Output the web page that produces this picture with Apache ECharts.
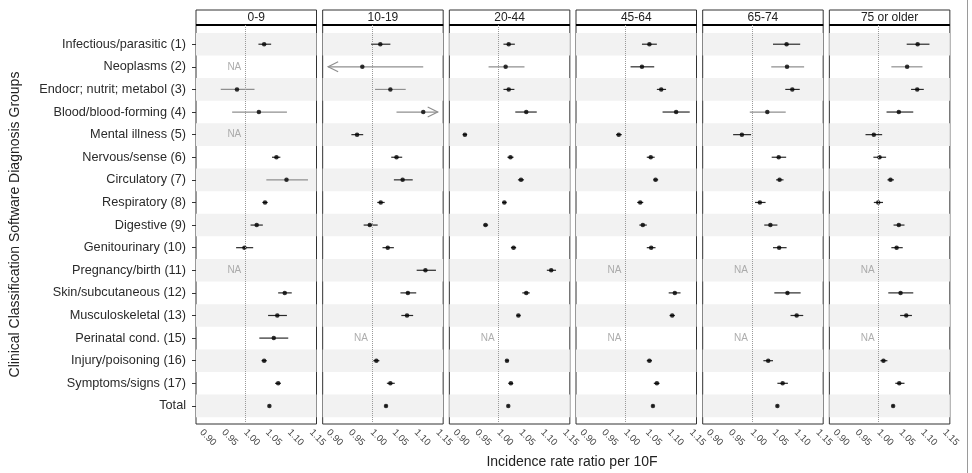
<!DOCTYPE html>
<html>
<head>
<meta charset="utf-8">
<script src="https://cdn.jsdelivr.net/npm/echarts@6/dist/echarts.min.js"></script>
<style>
  html, body { margin: 0; padding: 0; background: #fff; }
  #chart { width: 972px; height: 473px; }
</style>
</head>
<body>
<div id="chart"></div>
<script>
// forest plot: incidence rate ratio per 10F by age group
var myChart = echarts.init(document.getElementById('chart'));

var ageGroups = ['0-9', '10-19', '20-44', '45-64', '65-74', '75 or older'];
var diagnosisGroups = [
    'Infectious/parasitic (1)', 'Neoplasms (2)', 'Endocr; nutrit; metabol (3)',
    'Blood/blood-forming (4)', 'Mental illness (5)', 'Nervous/sense (6)',
    'Circulatory (7)', 'Respiratory (8)', 'Digestive (9)', 'Genitourinary (10)',
    'Pregnancy/birth (11)', 'Skin/subcutaneous (12)', 'Musculoskeletal (13)',
    'Perinatal cond. (15)', 'Injury/poisoning (16)', 'Symptoms/signs (17)', 'Total'
];

// [estimate, lower, upper]; null = NA
var rr_0_9 = [
    [1.043, 1.030, 1.059], null, [0.981, 0.944, 1.021], [1.031, 0.970, 1.095], null,
    [1.071, 1.061, 1.080], [1.094, 1.048, 1.143], [1.045, 1.039, 1.051], [1.026, 1.012, 1.040],
    [0.998, 0.979, 1.018], null, [1.090, 1.075, 1.106], [1.073, 1.052, 1.095],
    [1.065, 1.032, 1.098], [1.043, 1.037, 1.049], [1.075, 1.068, 1.081], [1.055, 1.053, 1.057]
];
var rr_10_19 = [
    [1.019, 0.998, 1.042], [0.978, 0.860, 1.117], [1.042, 1.007, 1.077], [1.117, 1.056, 1.180],
    [0.966, 0.953, 0.980], [1.056, 1.044, 1.069], [1.070, 1.050, 1.093], [1.020, 1.012, 1.029],
    [0.995, 0.981, 1.013], [1.036, 1.024, 1.050], [1.122, 1.102, 1.146], [1.082, 1.065, 1.101],
    [1.080, 1.067, 1.094], null, [1.010, 1.003, 1.017], [1.042, 1.034, 1.052], [1.032, 1.030, 1.034]
];
var rr_20_44 = [
    [1.023, 1.011, 1.037], [1.016, 0.977, 1.059], [1.023, 1.011, 1.036], [1.063, 1.038, 1.087],
    [0.923, 0.918, 0.928], [1.027, 1.020, 1.034], [1.051, 1.044, 1.058], [1.013, 1.008, 1.018],
    [0.970, 0.965, 0.976], [1.034, 1.028, 1.040], [1.120, 1.110, 1.131], [1.063, 1.054, 1.071],
    [1.045, 1.041, 1.050], null, [1.019, 1.016, 1.023], [1.028, 1.022, 1.033], [1.022, 1.020, 1.024]
];
var rr_45_64 = [
    [1.055, 1.038, 1.072], [1.038, 1.012, 1.066], [1.082, 1.072, 1.093], [1.116, 1.085, 1.147],
    [0.985, 0.979, 0.992], [1.058, 1.049, 1.067], [1.069, 1.064, 1.075], [1.034, 1.027, 1.041],
    [1.040, 1.032, 1.049], [1.059, 1.049, 1.069], null, [1.113, 1.099, 1.126],
    [1.107, 1.101, 1.113], null, [1.055, 1.049, 1.061], [1.072, 1.065, 1.078], [1.063, 1.061, 1.065]
];
var rr_65_74 = [
    [1.079, 1.048, 1.110], [1.080, 1.044, 1.119], [1.092, 1.076, 1.109], [1.035, 0.995, 1.077],
    [0.977, 0.957, 0.998], [1.061, 1.045, 1.078], [1.063, 1.055, 1.072], [1.018, 1.007, 1.031],
    [1.042, 1.028, 1.058], [1.062, 1.048, 1.079], null, [1.081, 1.051, 1.111],
    [1.102, 1.088, 1.117], null, [1.037, 1.026, 1.048], [1.070, 1.058, 1.082], [1.058, 1.056, 1.060]
];
var rr_75_plus = [
    [1.089, 1.064, 1.116], [1.065, 1.029, 1.100], [1.088, 1.074, 1.103], [1.046, 1.018, 1.079],
    [0.989, 0.970, 1.008], [1.002, 0.988, 1.017], [1.027, 1.020, 1.035], [0.999, 0.989, 1.010],
    [1.046, 1.034, 1.059], [1.041, 1.029, 1.055], null, [1.050, 1.022, 1.079],
    [1.063, 1.049, 1.076], null, [1.011, 1.004, 1.020], [1.047, 1.038, 1.059], [1.033, 1.031, 1.035]
];
var panelData = [rr_0_9, rr_10_19, rr_20_44, rr_45_64, rr_65_74, rr_75_plus];

var xTickLabels = [0.90, 0.95, 1.00, 1.05, 1.10, 1.15];
var xTicks = [0.90, 0.925, 0.95, 0.975, 1.00, 1.025, 1.05, 1.075, 1.10, 1.125, 1.15];
var X_CLIP = [0.90, 1.15];
var NA_X = 0.975;

var FONT = '"Liberation Sans", Arial, sans-serif';
var PANEL_LEFT = 196, PANEL_STEP = 126.67, PANEL_W = 120.5;
var PANEL_TOP = 25, PANEL_H = 399, STRIP_TOP = 10;

var rowIdx = diagnosisGroups.map(function (d, i) { return i; });

function renderErrorBar(params, api) {
    var lo = api.value(0), hi = api.value(1), row = api.value(2);
    var a = api.coord([Math.max(lo, X_CLIP[0]), row]);
    var b = api.coord([Math.min(hi, X_CLIP[1]), row]);
    var color = (hi - lo) > 0.07 ? '#8f8f8f' : '#2a2a2a';
    var st = { stroke: color, lineWidth: 1.2, fill: null };
    var kids = [{ type: 'line', shape: { x1: a[0], y1: a[1], x2: b[0], y2: b[1] }, style: st }];
    if (lo < X_CLIP[0]) {
        kids.push({ type: 'polyline', shape: { points: [[a[0] + 10, a[1] - 5], [a[0], a[1]], [a[0] + 10, a[1] + 5]] }, style: st });
    }
    if (hi > X_CLIP[1]) {
        kids.push({ type: 'polyline', shape: { points: [[b[0] - 10, b[1] - 5], [b[0], b[1]], [b[0] - 10, b[1] + 5]] }, style: st });
    }
    return { type: 'group', children: kids };
}

var grids = [], xAxes = [], yAxes = [], series = [], graphics = [];

var bands = [];
rowIdx.forEach(function (r) {
    if (r % 2 === 0) bands.push([{ yAxis: r - 0.5 }, { yAxis: r + 0.5 }]);
});

ageGroups.forEach(function (age, p) {
    var left = PANEL_LEFT + p * PANEL_STEP;
    grids.push({
        left: left, top: PANEL_TOP, width: PANEL_W, height: PANEL_H,
        show: true, borderColor: '#333', borderWidth: 1, backgroundColor: '#fff'
    });
    xAxes.push({
        type: 'value', gridIndex: p, min: 0.8875, max: 1.1625,
        axisLine: { show: false },
        splitLine: { show: false },
        axisTick: { show: true, length: 4, customValues: xTicks, lineStyle: { color: '#333' } },
        axisLabel: {
            customValues: xTickLabels, rotate: -45, margin: 7,
            fontFamily: FONT, fontSize: 9.5, color: '#444',
            formatter: function (v) { return v.toFixed(2); }
        }
    });
    yAxes.push({
        type: 'value', gridIndex: p, inverse: true, min: -0.85, max: 16.8,
        axisLine: { show: false },
        splitLine: { show: false },
        axisTick: { show: p === 0, length: 4, customValues: rowIdx, lineStyle: { color: '#333' } },
        axisLabel: {
            show: p === 0, customValues: rowIdx, margin: 10,
            fontFamily: FONT, fontSize: 12.7, color: '#2a2a2a',
            formatter: function (v) { return diagnosisGroups[v]; }
        },
        name: p === 0 ? 'Clinical Classification Software Diagnosis Groups' : '',
        nameLocation: 'middle', nameGap: 174, nameRotate: 90,
        nameTextStyle: { fontFamily: FONT, fontSize: 14, color: '#222' }
    });

    var rows = panelData[p];
    var bars = [], pts = [], nas = [];
    rows.forEach(function (v, r) {
        if (v === null) { nas.push([NA_X, r]); return; }
        bars.push([v[1], v[2], r]);
        pts.push([v[0], r]);
    });

    series.push({
        type: 'line', xAxisIndex: p, yAxisIndex: p, data: [], z: 1, silent: true,
        markArea: { silent: true, itemStyle: { color: '#f2f2f2' }, data: bands }
    });
    series.push({
        type: 'line', xAxisIndex: p, yAxisIndex: p, data: [], z: 2, silent: true,
        markLine: {
            silent: true, symbol: 'none', label: { show: false },
            lineStyle: { color: '#9a9a9a', type: 'dotted', width: 1 },
            data: [{ xAxis: 1.0 }]
        }
    });
    series.push({
        type: 'custom', xAxisIndex: p, yAxisIndex: p, z: 3, silent: true,
        renderItem: renderErrorBar, encode: { x: [0, 1], y: 2 }, data: bars
    });
    series.push({
        type: 'scatter', xAxisIndex: p, yAxisIndex: p, z: 4, silent: true,
        symbol: 'circle', symbolSize: 4.5, itemStyle: { color: '#000' }, data: pts
    });
    series.push({
        type: 'scatter', xAxisIndex: p, yAxisIndex: p, z: 4, silent: true,
        symbolSize: 1, itemStyle: { color: 'rgba(0,0,0,0)' },
        label: { show: true, position: 'inside', formatter: 'NA', fontFamily: FONT, fontSize: 10, color: '#999' },
        data: nas
    });

    // facet strip
    graphics.push({
        type: 'rect', shape: { x: left, y: STRIP_TOP, width: PANEL_W, height: PANEL_TOP - STRIP_TOP },
        style: { fill: '#fff', stroke: '#333', lineWidth: 1 }
    });
    graphics.push({
        type: 'line', shape: { x1: left, y1: PANEL_TOP, x2: left + PANEL_W, y2: PANEL_TOP },
        style: { stroke: '#000', lineWidth: 2.2 }
    });
    graphics.push({
        type: 'text', x: left + PANEL_W / 2, y: (STRIP_TOP + PANEL_TOP) / 2 + 0.5,
        style: { text: age, fontFamily: FONT, fontSize: 12, fill: '#222', align: 'center', verticalAlign: 'middle' }
    });
});

graphics.push({
    type: 'text', x: 572, y: 462,
    style: { text: 'Incidence rate ratio per 10F', fontFamily: FONT, fontSize: 14, fill: '#222', align: 'center', verticalAlign: 'middle' }
});
graphics.push({
    type: 'line', shape: { x1: 967.5, y1: 0, x2: 967.5, y2: 473 },
    style: { stroke: '#9a9a9a', lineWidth: 1 }
});

var option = {
    backgroundColor: '#fff',
    animation: false,
    grid: grids,
    xAxis: xAxes,
    yAxis: yAxes,
    series: series,
    graphic: { elements: graphics }
};

myChart.setOption(option);
</script>
</body>
</html>
